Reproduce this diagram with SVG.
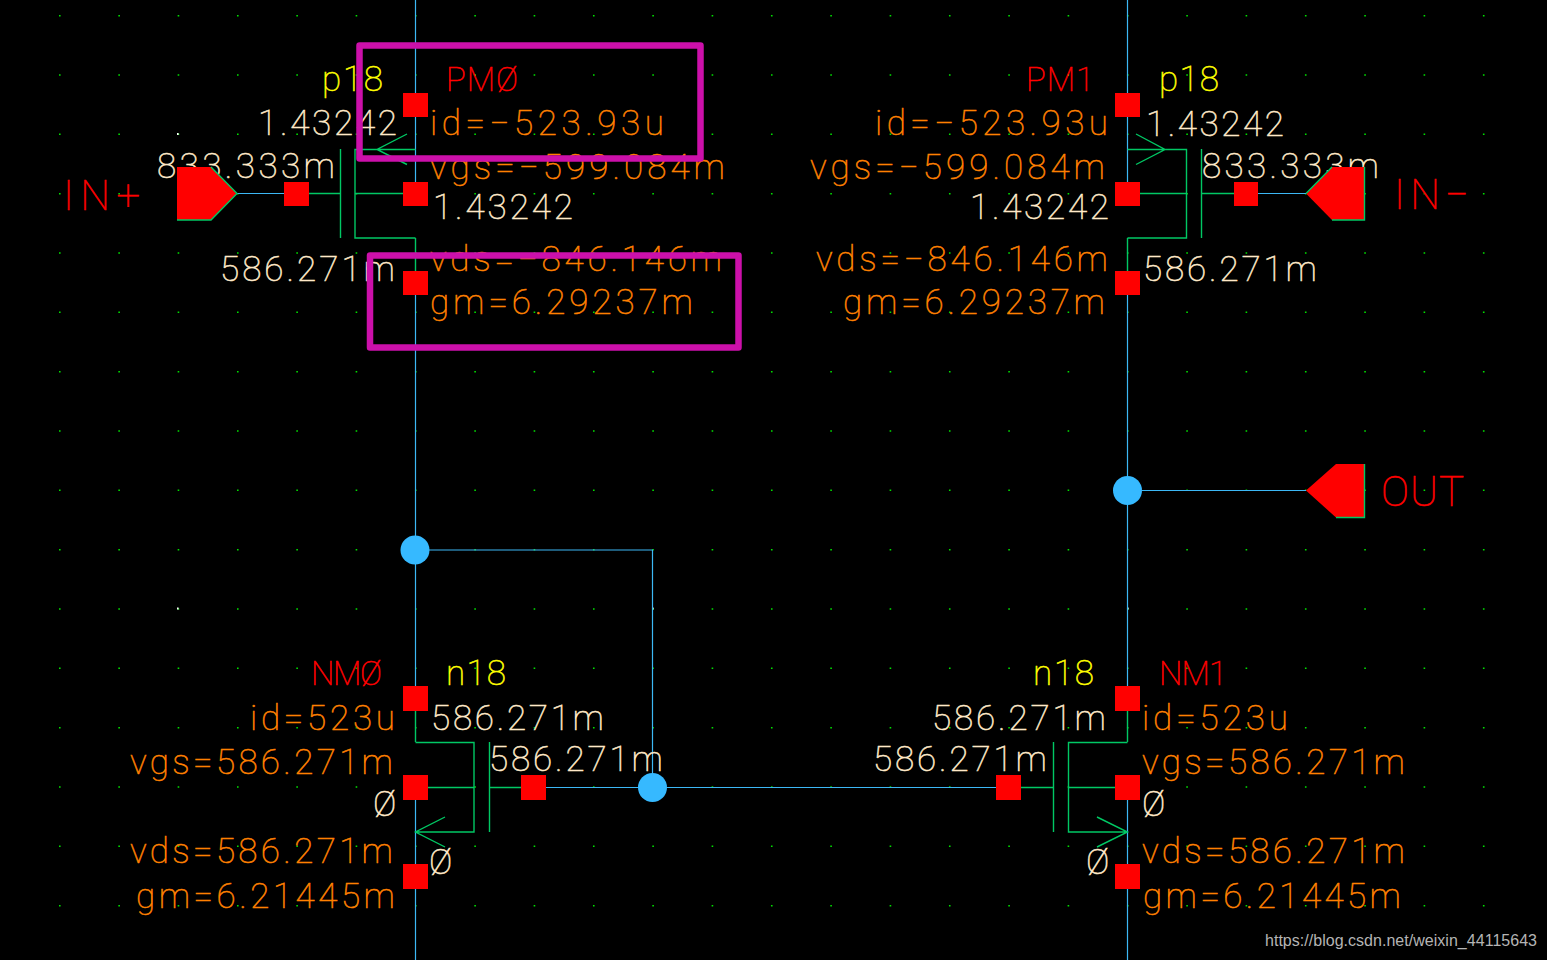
<svg xmlns="http://www.w3.org/2000/svg" width="1547" height="960" viewBox="0 0 1547 960">
<style>
text{font-family:Roboto,"Liberation Sans",sans-serif;font-weight:100;font-size:35px;stroke-width:.55px}
.o{fill:#ff8000;stroke:#ff8000}.w{fill:#ffe9c8;stroke:#ffe9c8}.y{fill:#ffff00;stroke:#ffff00}.r{fill:#ff0000;stroke:#ff0000;font-size:33px}
.r.big{font-size:42px}
.b{fill:none;stroke:#3cb8f5;stroke-width:1.2}
.g{fill:none;stroke:#00c864;stroke-width:1.4}
.s{fill:#ff0000}
.j{fill:#36b9ff}
.p{fill:#ff0000}
.m{fill:none;stroke:#cc10aa;stroke-width:6.5;stroke-linejoin:round}
</style>
<rect width="1547" height="960" fill="#000"/>
<g id="grid">
<path d="M59 15.7H1500M59 75H1500M59 134.3H1500M59 193.7H1500M59 253H1500M59 312.3H1500M59 371.7H1500M59 431H1500M59 490.3H1500M59 549.7H1500M59 609H1500M59 668.3H1500M59 727.7H1500M59 787H1500M59 846.3H1500M59 905.7H1500" stroke="#00e000" stroke-width="1.6" stroke-dasharray="1.6 57.73" fill="none"/>
<path d="M177 134h1.6M177 608.5h1.6M652 608.5h1.6M1127 608.5h1.6" stroke="#fff" stroke-width="2" fill="none"/>
</g>
<g id="connectors">
<path class="b" d="M415.5 0V93M415.5 117V182M415.5 295V686M415.5 800V864M415.5 889V960M1127.5 0V93M1127.5 117V182M1127.5 295V686M1127.5 800V864M1127.5 889V960"/>
<path class="b" d="M415.5 550H652.5V787.5M546 787.5H996M237 193.5H284M1258 193.5H1306M1127.5 490.5H1306"/>
<path class="g" d="M415.5 238V271M415.5 711V742M1127.5 238V271M1127.5 711V742"/>
</g>
<g id="PM0">
<path class="g" d="M415.5 149.5H355V238H415.5M355 193.5H403M340.5 149V238M309 193.5H340.5M407 134L377 149.5L407 164.5"/>
<rect class="s" x="403" y="93" width="25" height="24"/><rect class="s" x="403" y="182" width="25" height="24"/><rect class="s" x="403" y="271" width="25" height="24"/><rect class="s" x="284" y="182" width="25" height="24"/>
<text class="y" x="322" y="91" textLength="61">p18</text>
<text class="r" x="446" y="91" textLength="72">PMØ</text>
<text class="w" x="258" y="135" textLength="139">1.43242</text>
<text class="o" x="430" y="135" textLength="234">id=−523.93u</text>
<text class="w" x="157" y="178" textLength="178">833.333m</text>
<text class="o" x="430" y="179" textLength="295">vgs=−599.084m</text>
<text class="w" x="433" y="219" textLength="140">1.43242</text>
<text class="w" x="220" y="281" textLength="175">586.271m</text>
<text class="o" x="430" y="271" textLength="292">vds=−846.146m</text>
<text class="o" x="430" y="314" textLength="263">gm=6.29237m</text>
</g>
<g id="PM1">
<path class="g" d="M1127.5 149.5H1186.5V238H1127.5M1186.5 193.5H1140M1201.5 149V238M1234 193.5H1201.5M1136 134L1165 149.5L1136 164.5"/>
<rect class="s" x="1115" y="93" width="25" height="24"/><rect class="s" x="1115" y="182" width="25" height="24"/><rect class="s" x="1115" y="271" width="25" height="24"/><rect class="s" x="1234" y="182" width="24" height="24"/>
<text class="r" x="1026" y="91" textLength="68">PM1</text>
<text class="y" x="1159" y="91" textLength="60">p18</text>
<text class="o" x="875" y="135" textLength="233">id=−523.93u</text>
<text class="w" x="1146" y="136" textLength="138">1.43242</text>
<text class="o" x="810" y="179" textLength="295">vgs=−599.084m</text>
<text class="w" x="1202" y="178" textLength="177">833.333m</text>
<text class="w" x="970" y="219" textLength="139">1.43242</text>
<text class="o" x="816" y="271" textLength="292">vds=−846.146m</text>
<text class="w" x="1143" y="281" textLength="174">586.271m</text>
<text class="o" x="843" y="314" textLength="262">gm=6.29237m</text>
</g>
<g id="NM0">
<path class="g" d="M415.5 742.5H474V832H415.5M474 787.5H428M489.5 742V832M521 787.5H489.5M445 817L415.5 832L445 847"/>
<rect class="s" x="403" y="686" width="25" height="25"/><rect class="s" x="403" y="775" width="25" height="25"/><rect class="s" x="403" y="864" width="25" height="25"/><rect class="s" x="521" y="775" width="25" height="25"/>
<text class="r" x="311" y="685" textLength="71">NMØ</text>
<text class="y" x="446" y="685" textLength="60">n18</text>
<text class="o" x="250" y="730" textLength="145">id=523u</text>
<text class="w" x="431" y="730" textLength="173">586.271m</text>
<text class="o" x="130" y="774" textLength="263">vgs=586.271m</text>
<text class="w" x="489" y="771" textLength="174">586.271m</text>
<text class="w" x="373" y="816">Ø</text>
<text class="o" x="130" y="863" textLength="263">vds=586.271m</text>
<text class="w" x="429" y="874">Ø</text>
<text class="o" x="136" y="908" textLength="259">gm=6.21445m</text>
</g>
<g id="NM1">
<path class="g" d="M1127.5 742.5H1068.5V832H1127.5M1068.5 787.5H1115M1053.5 742V832M1021 787.5H1053.5M1097 817L1127.5 832L1097 847"/>
<rect class="s" x="1115" y="686" width="25" height="25"/><rect class="s" x="1115" y="775" width="25" height="25"/><rect class="s" x="1115" y="864" width="25" height="25"/><rect class="s" x="996" y="775" width="25" height="25"/>
<text class="y" x="1033" y="685" textLength="61">n18</text>
<text class="r" x="1159" y="685" textLength="68">NM1</text>
<text class="o" x="1142" y="730" textLength="146">id=523u</text>
<text class="w" x="932" y="730" textLength="174">586.271m</text>
<text class="w" x="873" y="771" textLength="174">586.271m</text>
<text class="o" x="1142" y="774" textLength="263">vgs=586.271m</text>
<text class="w" x="1142" y="816">Ø</text>
<text class="w" x="1086" y="874">Ø</text>
<text class="o" x="1142" y="863" textLength="263">vds=586.271m</text>
<text class="o" x="1143" y="908" textLength="258">gm=6.21445m</text>
</g>
<g id="pin-in-plus">
<path class="p" d="M177 167H211L237 193.5L211 220H177Z"/>
<path class="g" d="M211 167L237 193.5L211 220H177"/>
<text class="r big" x="63" y="210" textLength="77">IN+</text>
</g>
<g id="pin-in-minus">
<path class="p" d="M1306 193.5L1332 167H1364.5V220H1332Z"/>
<path class="g" d="M1332 167L1306 193.5M1332 220H1364.5V167"/>
<text class="r big" x="1394" y="209" textLength="75">IN−</text>
</g>
<g id="pin-out">
<path class="p" d="M1306 490.5L1336 464H1364.5V517.5H1336Z"/>
<path class="g" d="M1336 517.5H1364.5V464"/>
<text class="r big" x="1381" y="506" textLength="83">OUT</text>
</g>
<g id="junction-1"><circle class="j" cx="415" cy="550" r="14.5"/></g>
<g id="junction-2"><circle class="j" cx="652.5" cy="787.5" r="14.5"/></g>
<g id="junction-3"><circle class="j" cx="1127.5" cy="490.5" r="14.5"/></g>
<g id="highlight-1"><rect class="m" x="359.5" y="45.5" width="341" height="113"/></g>
<g id="highlight-2"><rect class="m" x="370" y="255.5" width="368.5" height="92"/></g>
<text x="1265" y="946" textLength="272" style="font-family:'Liberation Sans',sans-serif;font-weight:400;font-size:16px;stroke:none;fill:#b4b4b4">https://blog.csdn.net/weixin_44115643</text>
</svg>
